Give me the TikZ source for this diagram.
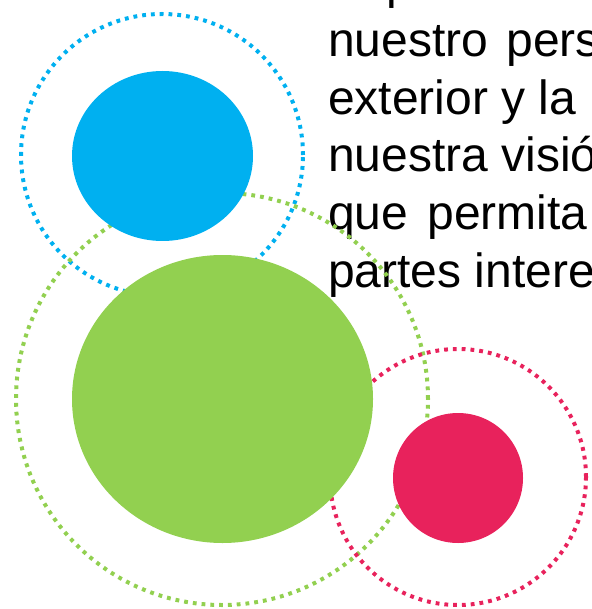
\documentclass[tikz,border=0pt]{standalone}
\usepackage{fontspec}
\setmainfont{Liberation Sans}
\usetikzlibrary{shapes.geometric}

\definecolor{ringblue}{HTML}{00B0F0}
\definecolor{ringgreen}{HTML}{92D050}
\definecolor{ringred}{HTML}{E8225C}

\begin{document}
\begin{tikzpicture}[
    x=1pt, y=-1pt,
    ring/.style={circle, draw, line width=4pt, dash pattern=on 3.8pt off 5pt, inner sep=0pt},
    blob/.style={ellipse, draw=none, inner sep=0pt},
    textline/.style={anchor=base west, inner sep=0pt, font=\fontsize{48}{57}\selectfont}
]
\useasboundingbox (0,0) rectangle (591,609);
\clip (0,0) rectangle (591,609);

% Text
\node[textline] (row0) at (386,-1) {p};
\node[textline] (row1) at (328,57) {nuestro\hspace{5pt} pers};
\node[textline] (row2) at (328,114.5) {exterior y la};
\node[textline] (row3) at (328,172) {nuestra visió};
\node[textline] (row4) at (328,229.5) {que\hspace{6pt} permita};
\node[textline] (row5) at (328,287) {partes intere};

% Rings
\node[ring, draw=ringblue, minimum size=282pt] (bluering) at (162,155) {};
\node[ring, draw=ringgreen, minimum size=412pt] (greenring) at (222,399) {};
\node[ring, draw=ringred, minimum size=256pt] (redring) at (458,477) {};

% Discs
\node[blob, fill=ringblue, minimum width=181pt, minimum height=170pt] (bluedisc) at (162.5,156) {};
\node[blob, fill=ringgreen, minimum width=301pt, minimum height=288pt] (greendisc) at (222.5,399) {};
\node[blob, fill=ringred, minimum width=130pt, minimum height=130pt] (reddisc) at (458,478) {};

\end{tikzpicture}
\end{document}
